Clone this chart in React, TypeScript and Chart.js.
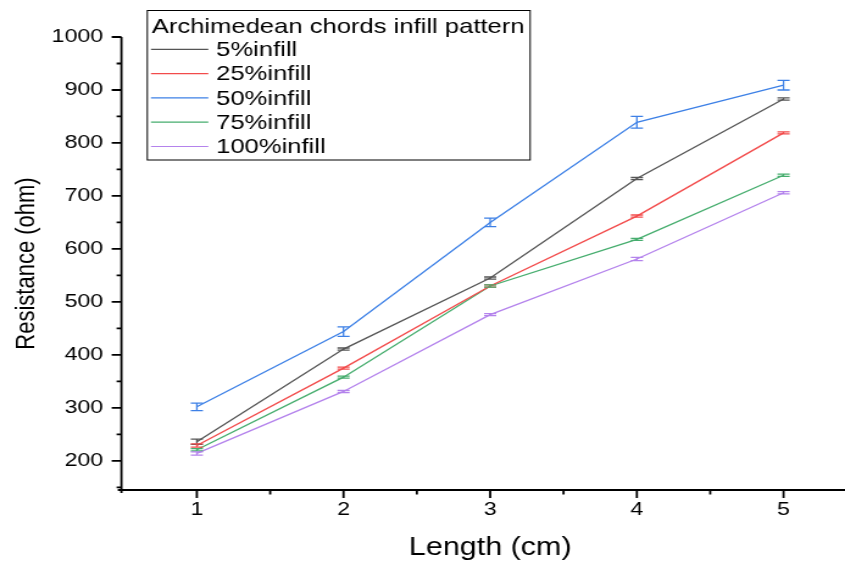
import React, { useEffect, useRef } from 'react';
import { Chart, registerables } from 'chart.js';
Chart.register(...registerables);

const lengths = [1, 2, 3, 4, 5];
const seriesNames = ['5%infill', '25%infill', '50%infill', '75%infill', '100%infill'];
const infill5 = [236, 411, 545, 733, 883];
const infill25 = [229, 375, 530, 662, 819];
const infill50 = [302, 444, 650, 839, 909];
const infill75 = [221, 358, 530, 618, 739];
const infill100 = [214, 331, 476, 581, 706];
const err5 = [5, 2, 2, 2, 2];
const err25 = [3, 2, 2, 2, 2];
const err50 = [7, 9, 8, 11, 9];
const err75 = [2, 2, 2, 2, 2];
const err100 = [3, 2, 2, 3, 2];
const colors = ['#555555', '#f24b4b', '#3d80e6', '#46ad6e', '#b483ec'];
const legendTitle = 'Archimedean chords infill pattern';
const xTitle = 'Length (cm)';
const yTitle = 'Resistance (ohm)';
const yMajorTicks = [200, 300, 400, 500, 600, 700, 800, 900, 1000];
const yMinorTicks = [150, 250, 350, 450, 550, 650, 750, 850, 950];
const xMajorTicks = [1, 2, 3, 4, 5];
const xMinorTicks = [1.5, 2.5, 3.5, 4.5];

const FONT = "'Liberation Sans', Arial, sans-serif";
const CW = 693; // internal canvas width, stretched to 845 via CSS
const CH = 563;

const allValues = [infill5, infill25, infill50, infill75, infill100];
const allErrors = [err5, err25, err50, err75, err100];

const errorBarPlugin = {
  id: 'errorBars',
  afterDatasetsDraw(chart: any) {
    const ctx = chart.ctx;
    const xs = chart.scales.x;
    const ys = chart.scales.y;
    ctx.save();
    chart.data.datasets.forEach((ds: any, i: number) => {
      const errs = allErrors[i];
      ctx.strokeStyle = colors[i];
      ctx.lineWidth = 1.3;
      ds.data.forEach((p: any, j: number) => {
        const px = xs.getPixelForValue(p.x);
        const yTop = ys.getPixelForValue(p.y + errs[j]);
        const yBot = ys.getPixelForValue(p.y - errs[j]);
        ctx.beginPath();
        ctx.moveTo(px, yTop);
        ctx.lineTo(px, yBot);
        ctx.moveTo(px - 5, yTop);
        ctx.lineTo(px + 5, yTop);
        ctx.moveTo(px - 5, yBot);
        ctx.lineTo(px + 5, yBot);
        ctx.stroke();
      });
    });
    ctx.restore();
  },
};

const axesPlugin = {
  id: 'axesLines',
  afterDraw(chart: any) {
    const ctx = chart.ctx;
    const { left, right, top, bottom } = chart.chartArea;
    const xs = chart.scales.x;
    const ys = chart.scales.y;
    ctx.save();
    ctx.strokeStyle = '#000';
    ctx.lineWidth = 1.8;
    ctx.beginPath();
    ctx.moveTo(left, top);
    ctx.lineTo(left, bottom + 3);
    ctx.moveTo(left - 3, bottom);
    ctx.lineTo(right, bottom);
    yMajorTicks.forEach((v) => {
      const py = ys.getPixelForValue(v);
      ctx.moveTo(left - 8, py);
      ctx.lineTo(left, py);
    });
    yMinorTicks.forEach((v) => {
      const py = ys.getPixelForValue(v);
      ctx.moveTo(left - 4, py);
      ctx.lineTo(left, py);
    });
    xMajorTicks.forEach((v) => {
      const px = xs.getPixelForValue(v);
      ctx.moveTo(px, bottom);
      ctx.lineTo(px, bottom + 8);
    });
    xMinorTicks.forEach((v) => {
      const px = xs.getPixelForValue(v);
      ctx.moveTo(px, bottom);
      ctx.lineTo(px, bottom + 4.5);
    });
    ctx.stroke();
    // x axis title, centred on the 0.5–5.5 axis span
    ctx.fillStyle = '#000';
    ctx.font = `25px ${FONT}`;
    ctx.textAlign = 'center';
    ctx.textBaseline = 'middle';
    ctx.fillText(xTitle, xs.getPixelForValue(3), 548);
    ctx.restore();
  },
};

const legendPlugin = {
  id: 'customLegend',
  afterDraw(chart: any) {
    const ctx = chart.ctx;
    ctx.save();
    const bx = 120.8, by = 10.5, bw = 314, bh = 149.5;
    ctx.fillStyle = '#fff';
    ctx.fillRect(bx, by, bw, bh);
    ctx.strokeStyle = '#000';
    ctx.lineWidth = 1;
    ctx.strokeRect(bx, by, bw, bh);
    ctx.fillStyle = '#000';
    ctx.textBaseline = 'middle';
    ctx.textAlign = 'left';
    ctx.font = `21px ${FONT}`;
    ctx.fillText(legendTitle, 124.4, 27);
    const rowY = [49.3, 73.6, 97.9, 122.2, 146.5];
    seriesNames.forEach((name, i) => {
      const y = rowY[i];
      ctx.strokeStyle = colors[i];
      ctx.lineWidth = 1.2;
      ctx.beginPath();
      ctx.moveTo(123.8, y);
      ctx.lineTo(170.8, y);
      ctx.stroke();
      ctx.fillStyle = '#000';
      ctx.fillText(name, 177.2, y + 1);
    });
    ctx.restore();
  },
};

export default function App() {
  const ref = useRef<HTMLCanvasElement | null>(null);
  useEffect(() => {
    const canvas = ref.current!;
    const datasets = allValues.map((vals, i) => ({
      label: seriesNames[i],
      data: lengths.map((x, j) => ({ x, y: vals[j] })),
      borderColor: colors[i],
      backgroundColor: colors[i],
      borderWidth: 1.3,
      pointRadius: 0,
      fill: false,
      tension: 0,
    }));
    const chart = new Chart(canvas, {
      type: 'line',
      data: { datasets },
      options: {
        animation: false,
        responsive: false,
        devicePixelRatio: 1,
        layout: { padding: { top: 37, right: 0, left: 0, bottom: 0 } },
        plugins: { legend: { display: false }, tooltip: { enabled: false } },
        scales: {
          x: {
            type: 'linear',
            min: 0.486,
            max: 5.419,
            afterFit: (s: any) => { s.height = 73; },
            afterBuildTicks: (s: any) => { s.ticks = xMajorTicks.map((v) => ({ value: v })); },
            grid: { display: false, drawTicks: false },
            border: { display: false },
            ticks: {
              autoSkip: false,
              maxRotation: 0,
              padding: 8,
              color: '#000',
              font: { family: FONT, size: 19 },
              callback: (v: any) => String(v),
            },
            title: { display: false },
          },
          y: {
            type: 'linear',
            min: 145,
            max: 1000,
            afterFit: (s: any) => { s.width = 99.6; },
            afterBuildTicks: (s: any) => { s.ticks = yMajorTicks.map((v) => ({ value: v })); },
            grid: { display: false, drawTicks: false },
            border: { display: false },
            ticks: {
              autoSkip: false,
              padding: 15,
              color: '#000',
              font: { family: FONT, size: 19 },
              callback: (v: any) => String(v),
            },
            title: {
              display: true,
              text: yTitle,
              color: '#000',
              font: { family: FONT, size: 22 },
              padding: { top: 9, bottom: 0 },
            },
          },
        },
      },
      plugins: [errorBarPlugin, axesPlugin, legendPlugin],
    } as any);
    return () => chart.destroy();
  }, []);
  return (
    <div style={{ position: 'absolute', left: 0, top: 0, width: 845, height: 563, background: '#fff' }}>
      <canvas ref={ref} width={CW} height={CH} style={{ width: '845px', height: '563px', display: 'block' }} />
    </div>
  );
}
